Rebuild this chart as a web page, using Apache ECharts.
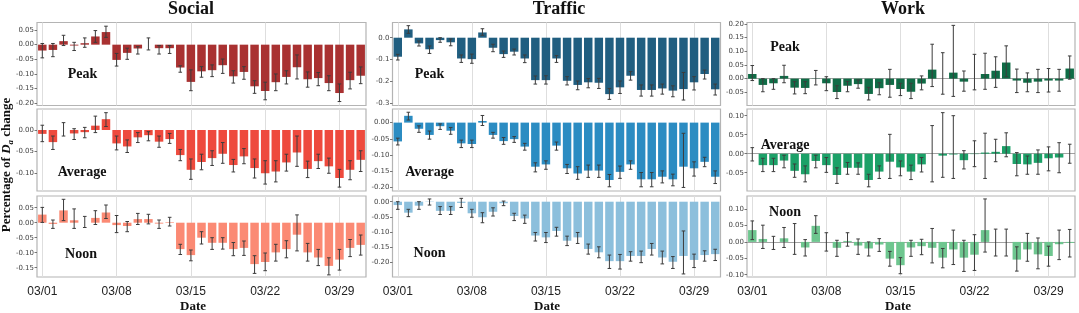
<!DOCTYPE html>
<html>
<head>
<meta charset="utf-8">
<script src="https://cdn.jsdelivr.net/npm/echarts@6/dist/echarts.min.js"></script>
<style>
html,body{margin:0;padding:0;background:#fff;}
#chart{width:1079px;height:313px;}
</style>
</head>
<body>
<div id="chart"></div>
<script>
// ---------- categories & tick labels ----------
const dates = ['03/01','03/02','03/03','03/04','03/05','03/06','03/07','03/08','03/09','03/10','03/11','03/12','03/13','03/14','03/15','03/16','03/17','03/18','03/19','03/20','03/21','03/22','03/23','03/24','03/25','03/26','03/27','03/28','03/29','03/30','03/31'];
const xTickLabels = ['03/01','03/08','03/15','03/22','03/29'];
const columnTitles = ['Social','Traffic','Work'];
const rowLabels = ['Peak','Average','Noon'];

const socialPeakTicks = [0.05,0,-0.05,-0.10,-0.15,-0.20];
const socialAvgTicks = [0,-0.05,-0.10];
const socialNoonTicks = [0.05,0,-0.05,-0.10,-0.15];
const trafficPeakTicks = [0,-0.1,-0.2,-0.3];
const trafficAvgTicks = [0,-0.05,-0.10,-0.15,-0.20];
const trafficNoonTicks = [0,-0.05,-0.10,-0.15,-0.20];
const workPeakTicks = [0.20,0.15,0.10,0.05,0,-0.05];
const workAvgTicks = [0.10,0.05,0,-0.05];
const workNoonTicks = [0.10,0.05,0,-0.05,-0.10];

// ---------- series values (mean, lower CI, upper CI) ----------
const socialPeak   = [-0.020,-0.018,0.012,-0.003,0.005,0.028,0.043,-0.052,-0.028,-0.013,0.000,-0.012,-0.012,-0.078,-0.127,-0.091,-0.087,-0.070,-0.108,-0.093,-0.142,-0.158,-0.128,-0.110,-0.077,-0.118,-0.114,-0.131,-0.165,-0.121,-0.106];
const socialPeakLo = [-0.045,-0.041,-0.003,-0.020,-0.009,0.008,0.025,-0.073,-0.050,-0.032,-0.018,-0.032,-0.030,-0.094,-0.157,-0.111,-0.109,-0.098,-0.131,-0.118,-0.166,-0.188,-0.157,-0.134,-0.117,-0.145,-0.140,-0.157,-0.194,-0.151,-0.133];
const socialPeakHi = [0.004,0.004,0.032,0.008,0.023,0.048,0.063,-0.030,-0.012,-0.007,0.023,-0.003,-0.003,-0.072,-0.086,-0.075,-0.069,-0.049,-0.089,-0.075,-0.123,-0.128,-0.100,-0.089,-0.035,-0.093,-0.095,-0.106,-0.134,-0.094,-0.076];

const socialAvg   = [-0.009,-0.028,0.000,-0.008,-0.005,0.010,0.025,-0.031,-0.038,-0.017,-0.012,-0.027,-0.021,-0.058,-0.092,-0.074,-0.065,-0.055,-0.081,-0.061,-0.088,-0.100,-0.096,-0.075,-0.052,-0.090,-0.072,-0.084,-0.111,-0.092,-0.069];
const socialAvgLo = [-0.027,-0.045,-0.014,-0.022,-0.018,-0.006,0.008,-0.046,-0.052,-0.029,-0.025,-0.040,-0.031,-0.071,-0.114,-0.092,-0.082,-0.077,-0.097,-0.078,-0.111,-0.125,-0.120,-0.095,-0.084,-0.110,-0.089,-0.100,-0.132,-0.115,-0.096];
const socialAvgHi = [0.011,-0.014,0.017,0.003,0.006,0.032,0.040,-0.014,-0.023,-0.006,-0.004,-0.014,-0.008,-0.045,-0.067,-0.056,-0.048,-0.029,-0.068,-0.043,-0.067,-0.071,-0.071,-0.056,-0.014,-0.072,-0.056,-0.065,-0.091,-0.071,-0.048];

const socialNoon   = [0.027,-0.004,0.041,0.008,0.000,0.016,0.034,-0.008,-0.011,0.012,0.012,-0.003,0.002,-0.088,-0.108,-0.050,-0.067,-0.067,-0.088,-0.084,-0.138,-0.131,-0.099,-0.088,-0.040,-0.099,-0.116,-0.144,-0.123,-0.084,-0.074];
const socialNoonLo = [0.001,-0.019,0.007,-0.019,-0.016,-0.006,0.014,-0.033,-0.030,-0.006,-0.004,-0.019,-0.011,-0.106,-0.127,-0.071,-0.089,-0.088,-0.110,-0.109,-0.169,-0.160,-0.128,-0.117,-0.094,-0.128,-0.143,-0.174,-0.158,-0.113,-0.108];
const socialNoonHi = [0.051,0.009,0.078,0.046,0.021,0.040,0.059,0.024,0.004,0.031,0.028,0.009,0.018,-0.072,-0.091,-0.030,-0.050,-0.050,-0.066,-0.061,-0.110,-0.101,-0.072,-0.060,0.026,-0.069,-0.089,-0.117,-0.089,-0.056,-0.041];

const trafficPeak   = [-0.087,0.038,-0.026,-0.053,-0.011,-0.021,-0.095,-0.098,0.024,-0.046,-0.075,-0.064,-0.095,-0.194,-0.194,-0.095,-0.197,-0.216,-0.204,-0.206,-0.258,-0.227,-0.174,-0.239,-0.239,-0.232,-0.242,-0.235,-0.204,-0.166,-0.236];
const trafficPeakLo = [-0.102,0.020,-0.038,-0.072,-0.021,-0.037,-0.113,-0.117,0.011,-0.064,-0.090,-0.079,-0.114,-0.212,-0.212,-0.113,-0.216,-0.238,-0.229,-0.232,-0.282,-0.255,-0.194,-0.267,-0.267,-0.258,-0.270,-0.285,-0.239,-0.189,-0.262];
const trafficPeakHi = [-0.076,0.055,-0.015,-0.038,0.000,-0.006,-0.079,-0.075,0.041,-0.030,-0.061,-0.052,-0.079,-0.175,-0.174,-0.082,-0.178,-0.198,-0.187,-0.186,-0.232,-0.198,-0.155,-0.216,-0.216,-0.212,-0.220,-0.159,-0.178,-0.148,-0.212];

const trafficAvg   = [-0.058,0.021,-0.019,-0.038,-0.011,-0.025,-0.064,-0.066,0.005,-0.038,-0.057,-0.051,-0.074,-0.136,-0.129,-0.071,-0.141,-0.157,-0.148,-0.148,-0.177,-0.152,-0.129,-0.175,-0.175,-0.167,-0.175,-0.136,-0.141,-0.121,-0.167];
const trafficAvgLo = [-0.069,0.008,-0.030,-0.051,-0.021,-0.036,-0.077,-0.077,-0.009,-0.048,-0.067,-0.061,-0.085,-0.152,-0.144,-0.085,-0.157,-0.175,-0.169,-0.169,-0.198,-0.172,-0.144,-0.198,-0.198,-0.186,-0.195,-0.200,-0.165,-0.136,-0.188];
const trafficAvgHi = [-0.048,0.032,-0.010,-0.026,-0.004,-0.015,-0.054,-0.054,0.022,-0.030,-0.046,-0.043,-0.064,-0.124,-0.118,-0.060,-0.129,-0.136,-0.131,-0.131,-0.160,-0.134,-0.118,-0.154,-0.154,-0.149,-0.159,-0.033,-0.121,-0.107,-0.149];

const trafficNoon   = [-0.011,-0.036,-0.013,-0.001,-0.030,-0.030,-0.004,-0.038,-0.051,-0.033,-0.005,-0.047,-0.055,-0.111,-0.117,-0.096,-0.128,-0.117,-0.155,-0.166,-0.195,-0.195,-0.178,-0.178,-0.155,-0.183,-0.197,-0.178,-0.191,-0.175,-0.172];
const trafficNoonLo = [-0.025,-0.049,-0.025,-0.011,-0.042,-0.042,-0.019,-0.051,-0.069,-0.047,-0.013,-0.062,-0.071,-0.129,-0.134,-0.113,-0.144,-0.137,-0.172,-0.184,-0.219,-0.221,-0.195,-0.200,-0.175,-0.204,-0.219,-0.237,-0.216,-0.195,-0.193];
const trafficNoonHi = [0.000,-0.025,0.000,0.009,-0.016,-0.016,0.011,-0.025,-0.036,-0.020,0.002,-0.038,-0.044,-0.101,-0.101,-0.084,-0.113,-0.101,-0.139,-0.148,-0.175,-0.173,-0.164,-0.162,-0.137,-0.162,-0.180,-0.096,-0.172,-0.161,-0.156];

const workPeak   = [0.017,-0.023,-0.017,0.010,-0.033,-0.034,0.001,-0.017,-0.049,-0.026,-0.020,-0.056,-0.035,-0.023,-0.038,-0.048,-0.018,0.033,0.000,0.022,-0.011,0.000,0.017,0.029,0.059,-0.007,-0.015,-0.011,-0.007,-0.007,0.037];
const workPeakLo = [-0.007,-0.048,-0.039,-0.015,-0.056,-0.055,-0.023,-0.044,-0.073,-0.048,-0.035,-0.078,-0.059,-0.068,-0.062,-0.073,-0.041,-0.029,-0.057,-0.065,-0.046,-0.041,-0.039,-0.032,0.007,-0.051,-0.048,-0.051,-0.049,-0.046,-0.002];
const workPeakHi = [0.048,0.000,0.000,0.049,-0.011,-0.011,0.030,0.007,-0.026,-0.010,-0.005,-0.032,-0.015,0.034,-0.017,-0.017,0.010,0.126,0.095,0.195,0.028,0.089,0.093,0.080,0.120,0.035,0.021,0.034,0.037,0.034,0.083];

const workAvg   = [0.000,-0.030,-0.030,-0.018,-0.045,-0.054,-0.019,-0.030,-0.056,-0.037,-0.037,-0.069,-0.047,-0.021,-0.036,-0.047,-0.028,0.000,-0.005,-0.002,-0.017,-0.001,0.003,0.005,0.020,-0.027,-0.028,-0.024,-0.012,-0.010,0.000];
const workAvgLo = [-0.019,-0.047,-0.047,-0.037,-0.062,-0.074,-0.037,-0.049,-0.078,-0.054,-0.054,-0.087,-0.065,-0.065,-0.058,-0.068,-0.048,-0.074,-0.062,-0.065,-0.040,-0.034,-0.065,-0.021,-0.008,-0.058,-0.054,-0.054,-0.045,-0.050,-0.025];
const workAvgHi = [0.016,-0.012,-0.012,-0.004,-0.027,-0.032,-0.004,-0.010,-0.037,-0.023,-0.024,-0.054,-0.032,0.051,-0.019,-0.030,-0.010,0.074,0.108,0.100,0.008,0.034,0.054,0.038,0.055,0.003,-0.006,0.010,0.018,0.029,0.025];

const workNoon   = [0.036,0.009,0.000,0.011,0.000,-0.017,0.049,0.000,-0.018,0.003,-0.011,-0.020,-0.008,-0.051,-0.071,-0.017,-0.013,-0.018,-0.048,-0.023,-0.048,-0.039,0.036,0.000,0.000,-0.054,-0.023,-0.038,-0.043,-0.007,-0.003];
const workNoonLo = [0.007,-0.020,-0.023,-0.017,-0.038,-0.043,0.026,-0.028,-0.044,-0.013,-0.038,-0.043,-0.029,-0.074,-0.097,-0.044,-0.039,-0.064,-0.079,-0.069,-0.090,-0.087,-0.031,-0.043,-0.043,-0.089,-0.059,-0.082,-0.074,-0.054,-0.046];
const workNoonHi = [0.064,0.051,0.017,0.044,0.056,0.007,0.080,0.028,0.005,0.028,0.009,0.000,0.010,-0.029,-0.048,0.005,0.008,0.041,-0.020,0.036,0.005,0.022,0.131,0.039,0.039,-0.015,0.026,0.012,-0.013,0.036,0.038];

// ---------- layout & style ----------
const cols = [
  {left: 37, width: 329, titleX: 191, dateX: 193},
  {left: 392.5, width: 328, titleX: 559, dateX: 547},
  {left: 747, width: 328, titleX: 903, dateX: 898}
];
const rows = [
  {top: 22.5, height: 83},
  {top: 109, height: 82},
  {top: 196, height: 81}
];

const panels = [
  {c:0,r:0,v:socialPeak,lo:socialPeakLo,hi:socialPeakHi,min:-0.2075,max:0.0756,ticks:socialPeakTicks,dec:2,color:'#a93131',lab:[82.5,74]},
  {c:0,r:1,v:socialAvg,lo:socialAvgLo,hi:socialAvgHi,min:-0.141,max:0.0485,ticks:socialAvgTicks,dec:2,color:'#ee4a3d',lab:[82,172]},
  {c:0,r:2,v:socialNoon,lo:socialNoonLo,hi:socialNoonHi,min:-0.181,max:0.089,ticks:socialNoonTicks,dec:2,color:'#fb8a74',lab:[81,254]},
  {c:1,r:0,v:trafficPeak,lo:trafficPeakLo,hi:trafficPeakHi,min:-0.310,max:0.0695,ticks:trafficPeakTicks,dec:1,color:'#205e80',lab:[429.5,74]},
  {c:1,r:1,v:trafficAvg,lo:trafficAvgLo,hi:trafficAvgHi,min:-0.211,max:0.042,ticks:trafficAvgTicks,dec:2,color:'#2b8cc2',lab:[429.5,172]},
  {c:1,r:2,v:trafficNoon,lo:trafficNoonLo,hi:trafficNoonHi,min:-0.247,max:0.0187,ticks:trafficNoonTicks,dec:2,color:'#8cbfdc',lab:[429.5,253]},
  {c:2,r:0,v:workPeak,lo:workPeakLo,hi:workPeakHi,min:-0.0983,max:0.2055,ticks:workPeakTicks,dec:2,color:'#0f6c46',lab:[785,47],zero:true},
  {c:2,r:1,v:workAvg,lo:workAvgLo,hi:workAvgHi,min:-0.098,max:0.1176,ticks:workAvgTicks,dec:2,color:'#1ca168',lab:[785,145],zero:true},
  {c:2,r:2,v:workNoon,lo:workNoonLo,hi:workNoonHi,min:-0.107,max:0.14,ticks:workNoonTicks,dec:2,color:'#6ec68f',lab:[785,212],zero:true}
];

const fmt = (v, d) => (Math.abs(v) < 1e-9 ? 0 : v).toFixed(d);
const serif = '"Liberation Serif","Times New Roman",serif';

const grid = [], xAxis = [], yAxis = [], series = [], graphic = [];

panels.forEach((p, k) => {
  const col = cols[p.c], row = rows[p.r];
  grid.push({left: col.left, top: row.top, width: col.width, height: row.height,
    show: true, borderColor: '#b4b4b4', borderWidth: 1.2, backgroundColor: 'transparent'});
  xAxis.push({gridIndex: k, type: 'category', data: dates, boundaryGap: true,
    axisLine: {show: false}, axisTick: {show: false}, splitLine: {show: false},
    axisLabel: {show: p.r === 2, interval: (i, val) => xTickLabels.indexOf(val) >= 0 || xTickLabels.indexOf(dates[i]) >= 0,
      fontSize: 12, color: '#222', margin: 9, fontFamily: '"Liberation Sans", Arial, sans-serif'}});
  yAxis.push({gridIndex: k, type: 'value', min: p.min, max: p.max,
    axisLine: {show: false}, splitLine: {show: false},
    axisTick: {show: true, customValues: p.ticks, length: 2.5, lineStyle: {color: '#555', width: 0.8}},
    axisLabel: {customValues: p.ticks, formatter: v => fmt(v, p.dec), fontSize: 7, color: '#444', margin: 3,
      fontFamily: '"DejaVu Sans", sans-serif'}});
  const ml = xTickLabels.map(d => ({xAxis: d, lineStyle: {color: '#dedede', width: 1, type: 'solid'}}));
  if (p.zero) ml.push({yAxis: 0, lineStyle: {color: '#8a8a8a', width: 0.8, type: 'solid'}});
  series.push({type: 'line', xAxisIndex: k, yAxisIndex: k, data: [], z: 1, silent: true,
    markLine: {z: 1, silent: true, symbol: 'none', label: {show: false}, animation: false, data: ml}});
  series.push({type: 'bar', xAxisIndex: k, yAxisIndex: k, data: p.v, barWidth: '80%', z: 2,
    itemStyle: {color: p.color}, silent: true, clip: false});
  series.push({type: 'custom', xAxisIndex: k, yAxisIndex: k, z: 5, silent: true, clip: false,
    data: p.v.map((_, i) => [i, p.lo[i], p.hi[i]]),
    encode: {x: 0, y: [1, 2]},
    renderItem: (params, api) => {
      const x = api.value(0);
      const a = api.coord([x, api.value(1)]);
      const b = api.coord([x, api.value(2)]);
      const w = 1.8, st = {stroke: '#3c3c3c', lineWidth: 1};
      return {type: 'group', children: [
        {type: 'line', shape: {x1: a[0], y1: a[1], x2: b[0], y2: b[1]}, style: st},
        {type: 'line', shape: {x1: a[0]-w, y1: a[1], x2: a[0]+w, y2: a[1]}, style: st},
        {type: 'line', shape: {x1: b[0]-w, y1: b[1], x2: b[0]+w, y2: b[1]}, style: st}
      ]};
    }});
  graphic.push({type: 'text', x: p.lab[0], y: p.lab[1], silent: true, z: 10,
    style: {text: rowLabels[p.r], font: 'bold 14px ' + serif, fill: '#111', align: 'center', verticalAlign: 'middle'}});
});

cols.forEach((col, c) => {
  graphic.push({type: 'text', x: col.titleX, y: 9, silent: true,
    style: {text: columnTitles[c], font: 'bold 18px ' + serif, fill: '#111', align: 'center', verticalAlign: 'middle'}});
  graphic.push({type: 'text', x: col.dateX, y: 307, silent: true,
    style: {text: 'Date', font: 'bold 13px ' + serif, fill: '#111', align: 'center', verticalAlign: 'middle'}});
});

graphic.push({type: 'text', x: 7, y: 165, rotation: Math.PI / 2, silent: true,
  style: {text: '{a|Percentage of }{b|D}{c|a}{a| change}', align: 'center', verticalAlign: 'middle', fill: '#111',
    rich: {
      a: {font: 'bold 13px ' + serif, fill: '#111'},
      b: {font: 'italic bold 13px ' + serif, fill: '#111'},
      c: {font: 'italic bold 9px ' + serif, fill: '#111', padding: [7, 0, 0, 0]}
    }}});

const chart = echarts.init(document.getElementById('chart'), null, {renderer: 'canvas'});
chart.setOption({animation: false, backgroundColor: '#fff', grid, xAxis, yAxis, series, graphic});
</script>
</body>
</html>
